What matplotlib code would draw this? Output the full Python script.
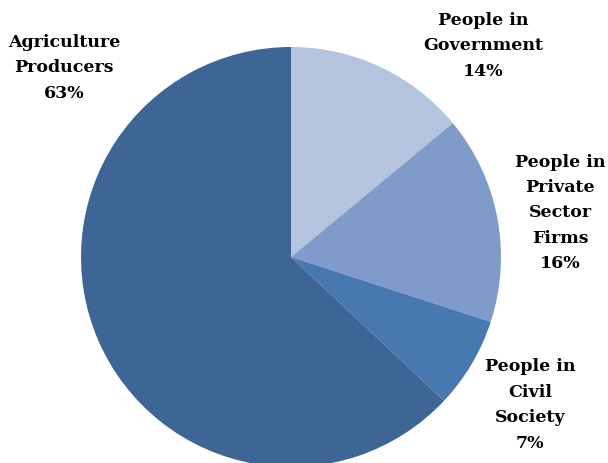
import matplotlib.pyplot as plt

labels = ['People in\nGovernment', 'People in\nPrivate\nSector\nFirms', 'People in\nCivil\nSociety', 'Agriculture\nProducers']
shares = [14, 16, 7, 63]
colors = ['#b4c4df', '#7f9bc9', '#4878b0', '#3d6595']
# label anchor points (pixel coords, y from top)
label_pos = [(483, 46), (560, 213), (530, 405), (64, 68)]

W, H = 608, 464
fig = plt.figure(figsize=(W / 100, H / 100), dpi=100)
ax = fig.add_axes([0, 0, 1, 1])

ax.pie(shares, colors=colors, startangle=90, counterclock=False,
       center=(291, H - 258), radius=210, frame=True,
       wedgeprops=dict(linewidth=0))
ax.set_xlim(0, W)
ax.set_ylim(0, H)
ax.axis('off')

for lab, val, (x, y) in zip(labels, shares, label_pos):
    ax.text(x, H - y, f'{lab}\n{val}%', ha='center', va='center',
            fontsize=12.5, fontweight='bold', family='DejaVu Serif',
            linespacing=1.65, color='black')

fig.savefig('out.png', dpi=100)
